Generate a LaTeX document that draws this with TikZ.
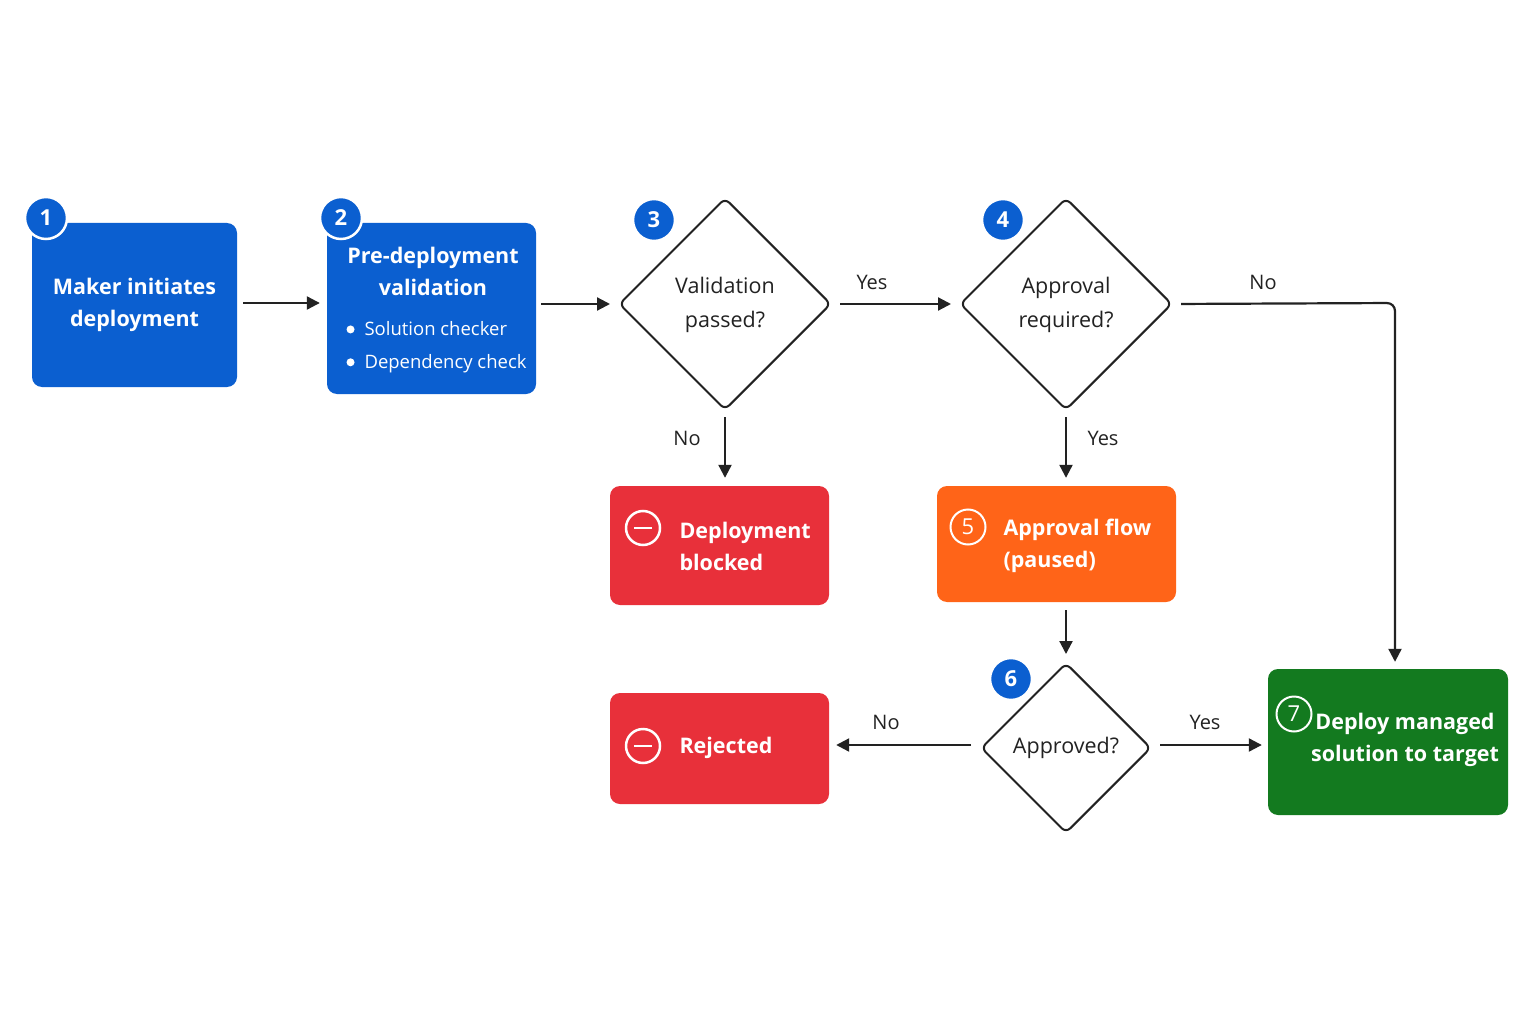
\documentclass[tikz,border=0pt]{standalone}
\usepackage{fontspec}
\setmainfont{Open Sans}
\usetikzlibrary{shapes.geometric,arrows.meta,calc}
\definecolor{cblue}{HTML}{0B5FD0}
\definecolor{cred}{HTML}{E8303A}
\definecolor{corange}{HTML}{FF6418}
\definecolor{cgreen}{HTML}{137A1F}
\definecolor{cline}{HTML}{222222}
\newcommand{\bul}{\tikz[baseline=-6.5pt]\fill[white] (0,0) circle (4pt);}
\newcommand{\twol}[2]{\raisebox{-5pt}{\begin{tabular}{@{}c@{}}#1\\[3pt]#2\end{tabular}}}
\begin{document}
\begin{tikzpicture}[x=1pt,y=-1pt,
 box/.style={draw=none,rounded corners=10pt,text=white,font=\bfseries\fontsize{21.5}{32}\selectfont,align=center},
 dia/.style={diamond,draw=cline,line width=2pt,rounded corners=6pt,minimum width=#1,minimum height=#1,inner sep=0pt,align=center,font=\fontsize{21.5}{31}\selectfont,text=cline},
 badge/.style={circle,fill=cblue,draw=white,line width=2.5pt,minimum size=42pt,inner sep=0pt,text=white,font=\bfseries\fontsize{22}{24}\selectfont},
 obadge/.style={circle,draw=white,line width=2pt,minimum size=35pt,inner sep=0pt,text=white,font=\fontsize{22}{24}\selectfont},
 arr/.style={-{Triangle[length=13pt,width=13pt]},line width=2.2pt,draw=cline},
 lab/.style={font=\fontsize{20}{24}\selectfont,text=cline},
 minus/.style={circle,draw=white,line width=2.5pt,minimum size=34pt,inner sep=0pt}]
\useasboundingbox (0,0) rectangle (1536,1024);
\fill[white] (0,0) rectangle (1536,1024);
% boxes
\node[box,fill=cblue,minimum width=205pt,minimum height=164pt] (b1) at (134.5,305) {Maker initiates\\deployment};
\node[badge] (n1) at (46,218) {1};
\node[box,fill=cblue,minimum width=209pt,minimum height=171pt] (b2) at (431.5,308.5) {};
\node[box] (b2t) at (433,271) {Pre-deployment\\validation};
\node[anchor=west,text=white,font=\fontsize{18.5}{24}\selectfont] (b2a) at (343,329) {\bul\hspace{10pt}Solution checker};
\node[anchor=west,text=white,font=\fontsize{18.5}{24}\selectfont] (b2b) at (343,364) {\bul\hspace{10pt}Dependency check};
\node[badge] (n2) at (341,218) {2};
\node[dia=212pt] (d3) at (725,304) {\twol{Validation}{passed?}};
\node[badge] (n3) at (654,220) {3};
\node[dia=212pt] (d4) at (1066,304) {\twol{Approval}{required?}};
\node[badge] (n4) at (1003,220) {4};
\node[box,fill=cred,minimum width=219pt,minimum height=119pt] (bb) at (719.5,545.5) {};
\node[minus] (mb) at (643,528) {};
\draw[white,line width=2.5pt] (mb.center)++(-9,0) -- ++(18,0);
\node[box,anchor=west,align=left] (bbt) at (676,546) {Deployment\\blocked};
\node[box,fill=corange,minimum width=239pt,minimum height=116pt] (bo) at (1056.5,544) {};
\node[obadge] (n5) at (968,527) {5};
\node[box,anchor=west,align=left] (bot) at (1000,546) {Approval flow\\(paused)};
\node[dia=170pt] (d6) at (1066,748) {Approved?};
\node[badge] (n6) at (1011,679) {6};
\node[box,fill=cred,minimum width=219pt,minimum height=111pt] (br) at (719.5,748.5) {};
\node[minus] (mr) at (643,746) {};
\draw[white,line width=2.5pt] (mr.center)++(-9,0) -- ++(18,0);
\node[box,anchor=west] (brt) at (676,748) {Rejected};
\node[box,fill=cgreen,minimum width=240pt,minimum height=146pt] (bg) at (1388,742) {};
\node[obadge] (n7) at (1294,714) {7};
\node[box] (bgt) at (1405,740) {Deploy managed\\solution to target};
% connectors
\coordinate (c1) at (1395,303);
\draw[arr,shorten <=6pt,shorten >=7pt] (b1.east|-0,303) -- (b2.west|-0,303);
\draw[arr,shorten <=5pt,shorten >=8pt] (b2.east|-d3) -- (d3.west);
\draw[arr,shorten <=8pt,shorten >=8pt] (d3.east) -- (d4.west);
\node[lab] (lyes1) at (872,282) {Yes};
\draw[arr,rounded corners=8pt,shorten <=8pt,shorten >=7pt] (d4.east) -- (c1) -- (c1|-bg.north) ;
\node[lab] (lno1) at (1263,282) {No};
\draw[arr,shorten <=6pt,shorten >=8pt] (d3.south) -- (bb.north-|d3.south);
\node[lab] (lno2) at (687,438) {No};
\draw[arr,shorten <=6pt,shorten >=8pt] (d4.south) -- (bo.north-|d4.south);
\node[lab] (lyes2) at (1103,438) {Yes};
\draw[arr,shorten <=8pt,shorten >=8pt] (bo.south-|d6.north) -- (d6.north);
\draw[arr,shorten <=9pt,shorten >=7pt] (d6.west|-0,745) -- (br.east|-0,745);
\node[lab] (lno3) at (886,722) {No};
\draw[arr,shorten <=8pt,shorten >=6pt] (d6.east|-0,745) -- (bg.west|-0,745);
\node[lab] (lyes3) at (1205,722) {Yes};
\end{tikzpicture}
\end{document}
